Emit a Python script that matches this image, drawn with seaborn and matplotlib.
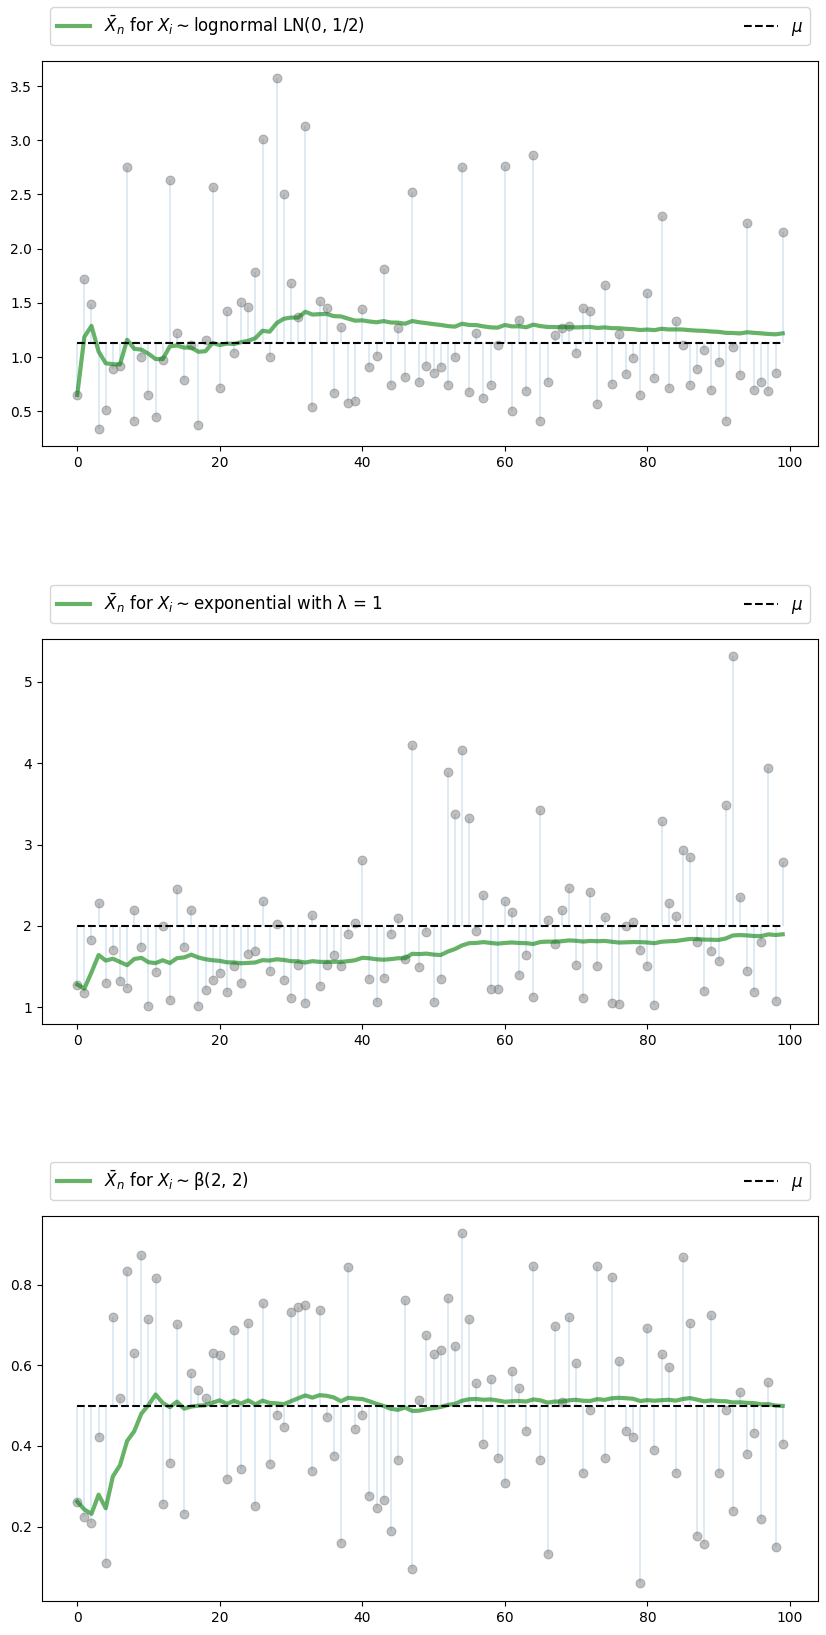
import numpy as np
import pandas as pd
import seaborn as sns
import matplotlib
matplotlib.use("Agg")
import matplotlib.pyplot as plt

# draws, one list per distribution
lognormal_draws = [
    0.65, 1.72, 1.49, 0.34, 0.51, 0.89, 0.92, 2.75, 0.41, 1.00,
    0.645, 0.45, 0.97, 2.63, 1.22, 0.79, 1.11, 0.37, 1.16, 2.57,
    0.715, 1.42, 1.04, 1.51, 1.46, 1.78, 3.01, 1.00, 3.57, 2.50,
    1.68, 1.37, 3.13, 0.54, 1.52, 1.45, 0.666, 1.28, 0.58, 0.59,
    1.445, 0.91, 1.01, 1.81, 0.74, 1.27, 0.82, 2.52, 0.77, 0.92,
    0.85, 0.91, 0.74, 1.00, 2.755, 0.675, 1.22, 0.62, 0.746, 1.11,
    2.765, 0.506, 1.34, 0.69, 2.86, 0.41, 0.77, 1.20, 1.27, 1.29,
    1.04, 1.45, 1.42, 0.57, 1.66, 0.755, 1.21, 0.84, 0.99, 0.645,
    1.59, 0.81, 2.30, 0.71, 1.33, 1.11, 0.746, 0.89, 1.06, 0.70,
    0.95, 0.405, 1.09, 0.83, 2.24, 0.70, 0.765, 0.69, 0.85, 2.155,
]
exponential_draws = [
    1.28, 1.18, 1.83, 2.28, 1.30, 1.71, 1.32, 1.24, 2.20, 1.74,
    1.01, 1.43, 2.00, 1.09, 2.45, 1.74, 2.20, 1.01, 1.21, 1.34,
    1.42, 1.19, 1.51, 1.30, 1.66, 1.69, 2.31, 1.45, 2.02, 1.34,
    1.12, 1.52, 1.05, 2.14, 1.26, 1.52, 1.64, 1.51, 1.90, 2.03,
    2.81, 1.35, 1.07, 1.36, 1.90, 2.10, 1.59, 4.22, 1.50, 1.93,
    1.07, 1.35, 3.89, 3.37, 4.16, 3.32, 1.94, 2.38, 1.23, 1.23,
    2.31, 2.17, 1.40, 1.64, 1.13, 3.43, 2.07, 1.78, 2.20, 2.47,
    1.52, 1.11, 2.42, 1.51, 2.11, 1.05, 1.04, 2.00, 2.05, 1.70,
    1.51, 1.03, 3.29, 2.28, 2.12, 2.93, 2.85, 1.80, 1.20, 1.69,
    1.57, 3.49, 5.31, 2.36, 1.45, 1.19, 1.80, 3.94, 1.08, 2.78,
]
beta_draws = [
    0.262, 0.223, 0.210, 0.422, 0.111, 0.719, 0.519, 0.833, 0.630, 0.873,
    0.714, 0.816, 0.255, 0.359, 0.702, 0.232, 0.582, 0.538, 0.520, 0.630,
    0.625, 0.317, 0.687, 0.344, 0.704, 0.252, 0.754, 0.356, 0.476, 0.447,
    0.731, 0.744, 0.749, 0.337, 0.736, 0.471, 0.376, 0.159, 0.843, 0.443,
    0.476, 0.277, 0.247, 0.265, 0.188, 0.366, 0.761, 0.094, 0.513, 0.674,
    0.627, 0.637, 0.766, 0.649, 0.927, 0.716, 0.555, 0.406, 0.565, 0.369,
    0.309, 0.587, 0.545, 0.438, 0.846, 0.364, 0.133, 0.697, 0.510, 0.719,
    0.605, 0.332, 0.490, 0.846, 0.369, 0.818, 0.610, 0.436, 0.423, 0.059,
    0.692, 0.391, 0.627, 0.597, 0.332, 0.868, 0.704, 0.178, 0.156, 0.724,
    0.334, 0.490, 0.238, 0.533, 0.379, 0.431, 0.220, 0.558, 0.150, 0.406,
]

names = ["lognormal LN(0, 1/2)", "exponential with λ = 1", "β(2, 2)"]
means = [np.exp(0.125), 2.0, 0.5]
draws = [lognormal_draws, exponential_draws, beta_draws]

fig = plt.figure(figsize=(8.26, 16.35), dpi=100)
bottoms = [0.7272, 0.3737, 0.0208]

legend_args = {"ncol": 2, "bbox_to_anchor": (0., 1.02, 1., .102),
               "loc": 3, "mode": "expand", "fontsize": 12}

for bottom, name, m, data in zip(bottoms, names, means, draws):
    ax = fig.add_axes([0.0508, bottom, 0.9395, 0.2355])
    n = len(data)
    df = pd.DataFrame({"n": np.arange(n), "x": data})
    df["sample_mean"] = df["x"].cumsum() / (df["n"] + 1)
    df["mu"] = m

    sns.scatterplot(data=df, x="n", y="x", ax=ax, color="grey", alpha=0.5,
                    s=40, edgecolor="grey", linewidth=0.8)
    sns.lineplot(data=df, x="n", y="sample_mean", ax=ax, color="g", lw=3,
                 alpha=0.6, label="$\\bar{X}_n$ for $X_i \\sim$" + name)
    sns.lineplot(data=df, x="n", y="mu", ax=ax, color="k", lw=1.5,
                 linestyle="--", label="$\\mu$")
    ax.vlines(df["n"], m, df["x"], lw=1.4, color="#1f77b4", alpha=0.15)

    ax.set_xlabel("")
    ax.set_ylabel("")
    ax.set_xticks([0, 20, 40, 60, 80, 100])
    ax.legend(**legend_args)

fig.savefig("out.png", dpi=100)
